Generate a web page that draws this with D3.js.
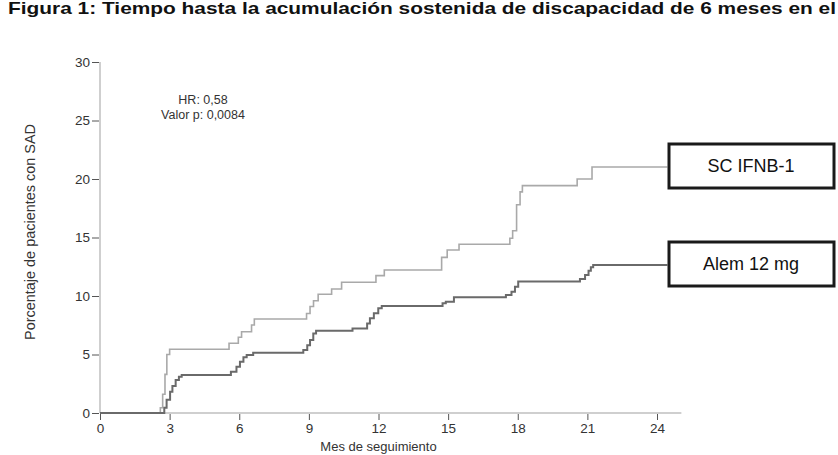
<!DOCTYPE html>
<html>
<head>
<meta charset="utf-8">
<script src="https://cdn.jsdelivr.net/npm/d3@7"></script>
<style>
  body { margin: 0; background: #fff; }
  svg { display: block; font-family: "Liberation Sans", Arial, sans-serif; }
</style>
</head>
<body>
<svg id="chart" width="838" height="455"></svg>
<script>
// Data (months, cumulative %)
const scMonths = [0, 2.6, 2.7, 2.8, 2.88, 3.0, 5.56, 5.96, 6.1, 6.53, 6.65, 8.9, 9.05, 9.2, 9.4, 9.98, 10.41, 11.89, 12.25, 14.72, 14.96, 15.47, 17.66, 17.78, 17.95, 18.1, 18.2, 20.56, 21.2, 24.45];
const scPct    = [0, 0.45, 1.6, 3.3, 5.0, 5.45, 5.96, 6.47, 6.95, 7.52, 8.03, 8.5, 9.1, 9.6, 10.15, 10.6, 11.17, 11.74, 12.22, 13.3, 13.93, 14.42, 14.93, 15.58, 17.8, 18.9, 19.43, 20.0, 21.03, 21.03];

const alemMonths = [0, 2.77, 2.87, 3.02, 3.12, 3.26, 3.4, 3.52, 5.64, 5.88, 6.03, 6.18, 6.32, 6.6, 8.76, 8.93, 9.05, 9.19, 9.31, 10.88, 11.51, 11.63, 11.8, 11.99, 12.14, 14.76, 14.9, 15.25, 17.49, 17.73, 17.88, 18.02, 20.68, 20.9, 21.05, 21.15, 21.25, 24.45];
const alemPct    = [0, 0.45, 1.14, 1.82, 2.3, 2.82, 3.1, 3.25, 3.53, 3.96, 4.38, 4.76, 4.96, 5.15, 5.38, 5.8, 6.24, 6.8, 7.03, 7.23, 7.66, 8.1, 8.52, 8.95, 9.15, 9.37, 9.51, 9.89, 10.08, 10.37, 10.8, 11.23, 11.45, 11.8, 12.15, 12.45, 12.65, 12.65];

const xTicks = [0, 3, 6, 9, 12, 15, 18, 21, 24];
const yTicks = [0, 5, 10, 15, 20, 25, 30];

const seriesNames = ["SC IFNB-1", "Alem 12 mg"];
const statLines = ["HR: 0,58", "Valor p: 0,0084"];

const svg = d3.select("#chart");

const x = d3.scaleLinear().domain([0, 24]).range([100, 657]);
const y = d3.scaleLinear().domain([0, 30]).range([413, 62]);

// Title
svg.append("text")
    .attr("x", 8)
    .attr("y", 14)
    .attr("font-family", "'Liberation Sans Narrow', 'Arial Narrow', Arial, sans-serif")
    .attr("font-weight", "bold")
    .attr("font-size", 17)
    .attr("textLength", 828)
    .attr("lengthAdjust", "spacingAndGlyphs")
    .attr("fill", "#111")
    .text("Figura 1: Tiempo hasta la acumulación sostenida de discapacidad de 6 meses en el");

// Axis lines
svg.append("line")
    .attr("x1", x(0)).attr("x2", x(25.05))
    .attr("y1", y(0)).attr("y2", y(0))
    .attr("stroke", "#cfcfcf").attr("stroke-width", 2);
svg.append("line")
    .attr("x1", x(0)).attr("x2", x(0))
    .attr("y1", y(0)).attr("y2", y(30))
    .attr("stroke", "#cfcfcf").attr("stroke-width", 2);

// Y axis
const yAxis = svg.append("g")
    .attr("transform", "translate(" + (x(0) - 1) + ",0)")
    .call(d3.axisLeft(y).tickValues(yTicks).tickSize(7).tickSizeOuter(0).tickPadding(2));
yAxis.select(".domain").remove();
yAxis.selectAll("line").attr("stroke", "#555");
yAxis.selectAll("text").attr("font-size", 13.5).attr("fill", "#333").attr("font-family", "'Liberation Sans', Arial, sans-serif");

// X axis
const xAxis = svg.append("g")
    .attr("transform", "translate(0," + (y(0) + 1) + ")")
    .call(d3.axisBottom(x).tickValues(xTicks).tickSize(6).tickSizeOuter(0).tickPadding(3));
xAxis.select(".domain").remove();
xAxis.selectAll("line").attr("stroke", "#555");
xAxis.selectAll("text").attr("font-size", 13.5).attr("fill", "#333").attr("font-family", "'Liberation Sans', Arial, sans-serif");

// Axis titles
svg.append("text")
    .attr("transform", "rotate(-90)")
    .attr("x", -232)
    .attr("y", 35)
    .attr("text-anchor", "middle")
    .attr("font-size", 14)
    .attr("textLength", 216)
    .attr("lengthAdjust", "spacingAndGlyphs")
    .attr("fill", "#333")
    .text("Porcentaje de pacientes con SAD");

svg.append("text")
    .attr("x", x(12))
    .attr("y", 451)
    .attr("text-anchor", "middle")
    .attr("font-size", 13)
    .attr("fill", "#333")
    .text("Mes de seguimiento");

// HR annotation
svg.selectAll(".stat")
    .data(statLines)
    .enter()
    .append("text")
    .attr("class", "stat")
    .attr("x", 203)
    .attr("y", (d, i) => 104 + i * 15)
    .attr("text-anchor", "middle")
    .attr("font-size", 12.5)
    .attr("fill", "#333")
    .text(d => d);

// Step curves
const line = d3.line()
    .x(d => x(d[0]))
    .y(d => y(d[1]))
    .curve(d3.curveStepAfter);

const scData = scMonths.map((m, i) => [m, scPct[i]]);
const alemData = alemMonths.map((m, i) => [m, alemPct[i]]);

svg.append("path")
    .datum(scData)
    .attr("d", line)
    .attr("fill", "none")
    .attr("stroke", "#a9a9a9")
    .attr("stroke-width", 1.6);

svg.append("path")
    .datum(alemData)
    .attr("d", line)
    .attr("fill", "none")
    .attr("stroke", "#6a6a6a")
    .attr("stroke-width", 2);

// Label boxes
const boxes = [
    { name: seriesNames[0], top: 144 },
    { name: seriesNames[1], top: 242 }
];
const box = svg.selectAll(".lbl")
    .data(boxes)
    .enter()
    .append("g")
    .attr("class", "lbl");
box.append("rect")
    .attr("x", 669)
    .attr("y", d => d.top)
    .attr("width", 165)
    .attr("height", 44)
    .attr("fill", "#fff")
    .attr("stroke", "#1a1a1a")
    .attr("stroke-width", 3);
box.append("text")
    .attr("x", 751)
    .attr("y", d => d.top + 28)
    .attr("text-anchor", "middle")
    .attr("font-size", 18)
    .attr("fill", "#111")
    .text(d => d.name);
</script>
</body>
</html>
